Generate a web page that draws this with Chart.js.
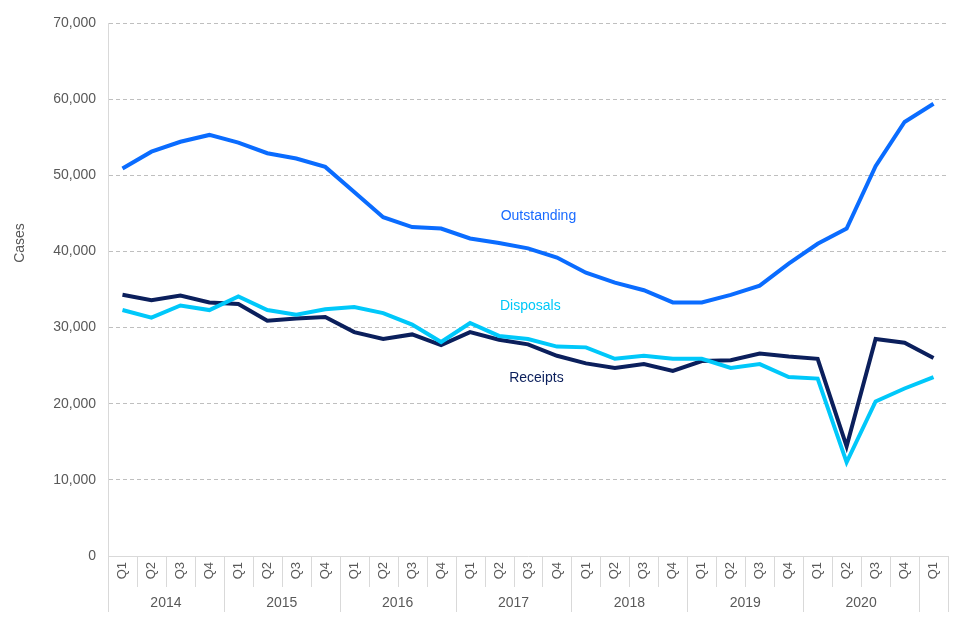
<!DOCTYPE html>
<html>
<head>
<meta charset="utf-8">
<script src="https://cdn.jsdelivr.net/npm/chart.js@4.4.0/dist/chart.umd.min.js"></script>
<style>
  html, body { margin: 0; padding: 0; background: #fff; }
  #wrap { width: 960px; height: 640px; }
</style>
</head>
<body>
<div id="wrap"><canvas id="casesChart"></canvas></div>
<script>
const quarters = ["Q1", "Q2", "Q3", "Q4", "Q1", "Q2", "Q3", "Q4", "Q1", "Q2", "Q3", "Q4",
  "Q1", "Q2", "Q3", "Q4", "Q1", "Q2", "Q3", "Q4", "Q1", "Q2", "Q3", "Q4",
  "Q1", "Q2", "Q3", "Q4", "Q1"];
const years = ["2014", "2015", "2016", "2017", "2018", "2019", "2020"];

const outstanding = [50900, 53100, 54400, 55300, 54300, 52900, 52200, 51100, 47800, 44500,
  43200, 43000, 41700, 41100, 40400, 39200, 37200, 35900, 34900, 33300,
  33300, 34300, 35500, 38400, 41000, 43000, 51200, 57000, 59400];
const disposals = [32300, 31300, 32900, 32300, 34100, 32300, 31700, 32400, 32700, 31900,
  30400, 28100, 30600, 28900, 28500, 27500, 27400, 25900, 26300, 25900,
  25900, 24700, 25200, 23500, 23300, 12300, 20300, 22000, 23500];
const receipts = [34300, 33600, 34200, 33300, 33100, 30900, 31200, 31400, 29400, 28500,
  29100, 27700, 29400, 28400, 27800, 26300, 25300, 24700, 25200, 24300,
  25600, 25700, 26600, 26200, 25900, 14400, 28500, 28000, 26000];

const FONT = "'Liberation Sans', Arial, sans-serif";
const GREY_TEXT = "#595959";
const AXIS_LINE = "#d9d9d9";

// series name labels placed next to the lines: [text, category index, value, colour]
const seriesLabels = [
  ["Outstanding", 14.36, 44600, "#1a6bff"],
  ["Disposals", 14.08, 32800, "#00c8f8"],
  ["Receipts", 14.29, 23300, "#0b1f5c"]
];

const extrasPlugin = {
  id: "extras",
  afterDraw(chart) {
    const ctx = chart.ctx;
    const x = chart.scales.x;
    const y = chart.scales.y;
    const bottom = chart.chartArea.bottom;
    ctx.save();

    // quarter and year separators under the axis
    ctx.strokeStyle = AXIS_LINE;
    ctx.lineWidth = 1;
    for (let i = 0; i <= quarters.length; i++) {
      const px = Math.round(x.getPixelForValue(i - 0.5)) + 0.5;
      const isYearEdge = i % 4 === 0 || i === quarters.length;
      ctx.beginPath();
      ctx.moveTo(px, bottom);
      ctx.lineTo(px, bottom + (isYearEdge ? 56 : 31));
      ctx.stroke();
    }

    // year labels
    ctx.fillStyle = GREY_TEXT;
    ctx.font = "14px " + FONT;
    ctx.textAlign = "center";
    ctx.textBaseline = "middle";
    years.forEach((yr, g) => {
      ctx.fillText(yr, x.getPixelForValue(g * 4 + 1.5), bottom + 47);
    });

    // y axis title
    ctx.save();
    ctx.translate(20, 243);
    ctx.rotate(-Math.PI / 2);
    ctx.fillText("Cases", 0, 0);
    ctx.restore();

    // series labels
    seriesLabels.forEach(([text, idx, val, colour]) => {
      ctx.fillStyle = colour;
      ctx.fillText(text, x.getPixelForValue(idx), y.getPixelForValue(val));
    });
    ctx.restore();
  }
};

const ctx = document.getElementById("casesChart").getContext("2d");

new Chart(ctx, {
  type: "line",
  data: {
    labels: quarters,
    datasets: [
      { label: "Outstanding", data: outstanding, borderColor: "#0a6cff" },
      { label: "Disposals", data: disposals, borderColor: "#00c8fa" },
      { label: "Receipts", data: receipts, borderColor: "#0b1f5c" }
    ]
  },
  options: {
    responsive: true,
    maintainAspectRatio: false,
    animation: false,
    layout: { padding: { top: 23, right: 12, left: 0, bottom: 0 } },
    elements: {
      line: { borderWidth: 4, tension: 0, fill: false },
      point: { radius: 0, hoverRadius: 0 }
    },
    plugins: {
      legend: { display: false },
      tooltip: { enabled: false }
    },
    scales: {
      x: {
        offset: true,
        grid: { display: false, drawTicks: false },
        border: { display: true, color: AXIS_LINE },
        ticks: {
          autoSkip: false,
          minRotation: 90,
          maxRotation: 90,
          padding: 6,
          color: GREY_TEXT,
          font: { family: FONT, size: 13 }
        },
        afterFit(scale) { scale.height = 84; }
      },
      y: {
        min: 0,
        max: 70000,
        grid: {
          color: "#bfbfbf",
          drawTicks: false
        },
        // in v4 border.dash sets the dash of the grid lines
        border: { display: true, color: AXIS_LINE, dash: [4, 3] },
        ticks: {
          stepSize: 10000,
          padding: 12,
          color: GREY_TEXT,
          font: { family: FONT, size: 14 },
          callback: v => v.toLocaleString("en-US")
        },
        afterFit(scale) { scale.width = 108; }
      }
    }
  },
  plugins: [extrasPlugin]
});
</script>
</body>
</html>
